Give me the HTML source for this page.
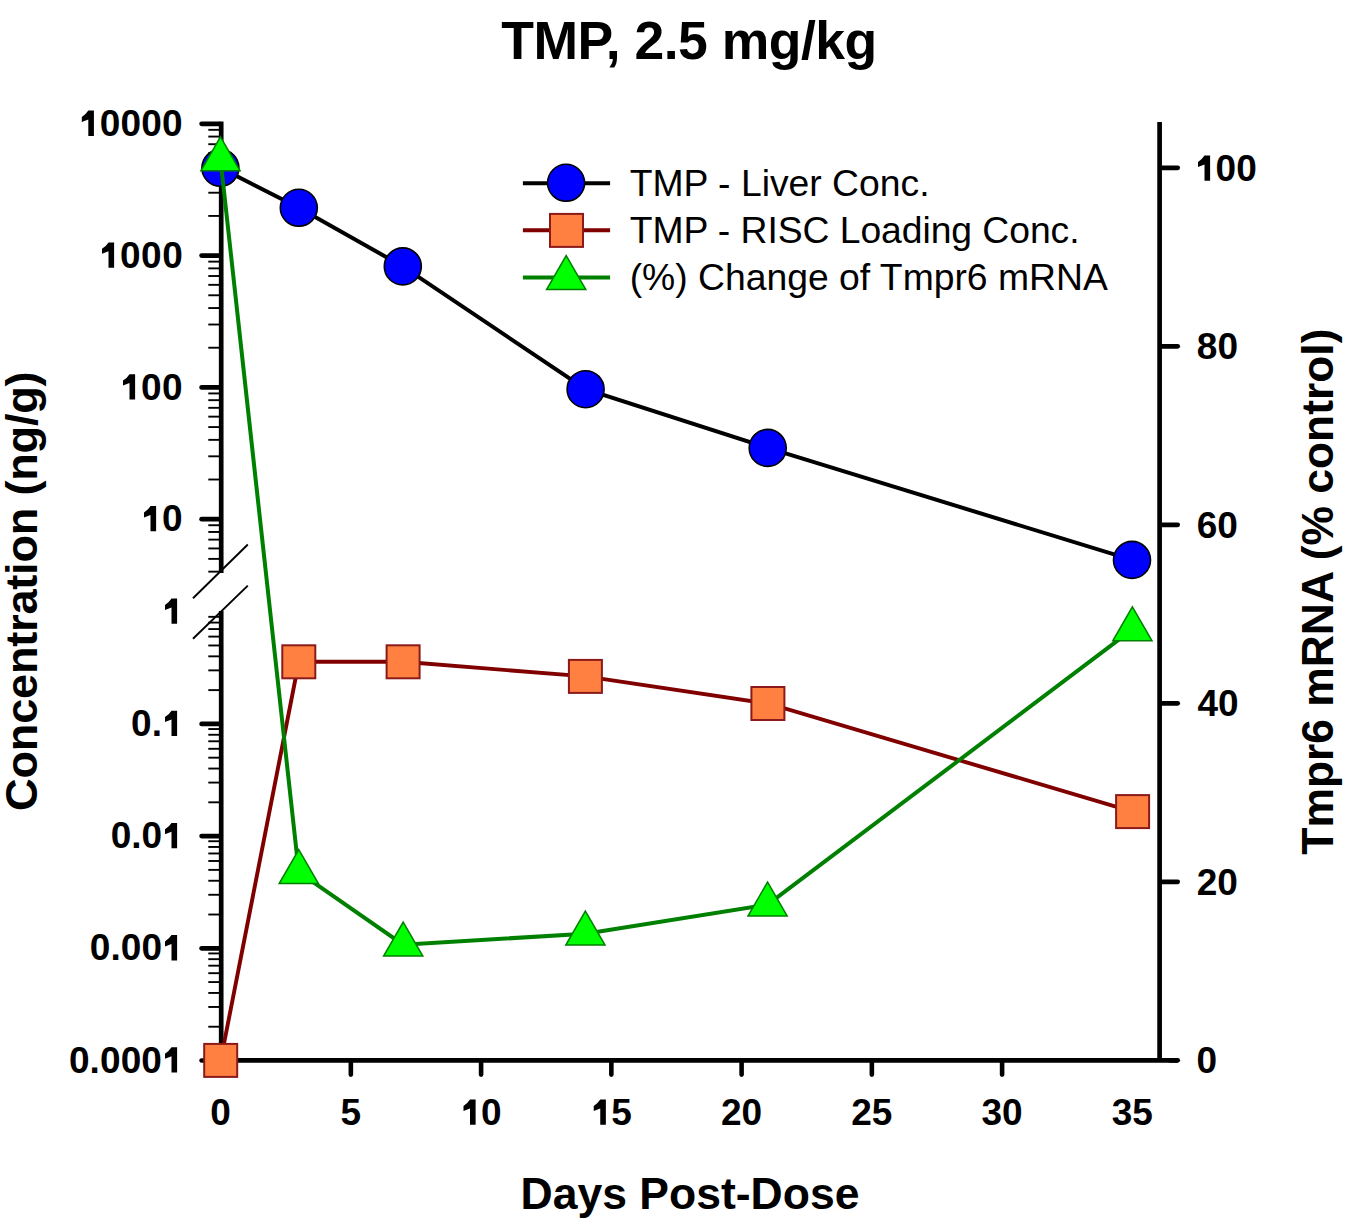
<!DOCTYPE html><html><head><meta charset="utf-8"><style>html,body{margin:0;padding:0;background:#fff;}svg{display:block}text{font-family:'Liberation Sans',sans-serif;}</style></head><body>
<svg width="1368" height="1227" viewBox="0 0 1368 1227">
<rect width="1368" height="1227" fill="#fff"/>
<text x="689" y="58.7" text-anchor="middle" font-weight="bold" font-size="53.5" style="letter-spacing:-0.5px">TMP, 2.5 mg/kg</text>
<g stroke="#000" fill="none">
<line x1="221.2" y1="121.6" x2="221.2" y2="573" stroke-width="4.7"/>
<line x1="221.2" y1="611" x2="221.2" y2="1062.6499999999999" stroke-width="4.7"/>
<line x1="218.85" y1="1060.3" x2="1177.7" y2="1060.3" stroke-width="4.7"/><line x1="1170" y1="1060.3" x2="1177.7" y2="1060.3" stroke-width="4.7" stroke-linecap="round"/>
<line x1="1159.6" y1="122" x2="1159.6" y2="1060.3" stroke-width="4.7"/>
<line x1="201.6" y1="123.80" x2="219.0" y2="123.80" stroke-width="4.7" stroke-linecap="round"/>
<line x1="201.6" y1="255.60" x2="219.0" y2="255.60" stroke-width="4.7" stroke-linecap="round"/>
<line x1="201.6" y1="387.40" x2="219.0" y2="387.40" stroke-width="4.7" stroke-linecap="round"/>
<line x1="201.6" y1="519.20" x2="219.0" y2="519.20" stroke-width="4.7" stroke-linecap="round"/>
<line x1="201.6" y1="723.90" x2="219.0" y2="723.90" stroke-width="4.7" stroke-linecap="round"/>
<line x1="201.6" y1="836.10" x2="219.0" y2="836.10" stroke-width="4.7" stroke-linecap="round"/>
<line x1="201.6" y1="948.30" x2="219.0" y2="948.30" stroke-width="4.7" stroke-linecap="round"/>
<line x1="201.6" y1="1060.50" x2="219.0" y2="1060.50" stroke-width="4.7" stroke-linecap="round"/>
<line x1="208.3" y1="215.92" x2="221.2" y2="215.92" stroke-width="1.9"/>
<line x1="208.3" y1="192.72" x2="221.2" y2="192.72" stroke-width="1.9"/>
<line x1="208.3" y1="176.25" x2="221.2" y2="176.25" stroke-width="1.9"/>
<line x1="208.3" y1="163.48" x2="221.2" y2="163.48" stroke-width="1.9"/>
<line x1="208.3" y1="153.04" x2="221.2" y2="153.04" stroke-width="1.9"/>
<line x1="208.3" y1="144.22" x2="221.2" y2="144.22" stroke-width="1.9"/>
<line x1="208.3" y1="136.57" x2="221.2" y2="136.57" stroke-width="1.9"/>
<line x1="208.3" y1="129.83" x2="221.2" y2="129.83" stroke-width="1.9"/>
<line x1="208.3" y1="347.72" x2="221.2" y2="347.72" stroke-width="1.9"/>
<line x1="208.3" y1="324.52" x2="221.2" y2="324.52" stroke-width="1.9"/>
<line x1="208.3" y1="308.05" x2="221.2" y2="308.05" stroke-width="1.9"/>
<line x1="208.3" y1="295.28" x2="221.2" y2="295.28" stroke-width="1.9"/>
<line x1="208.3" y1="284.84" x2="221.2" y2="284.84" stroke-width="1.9"/>
<line x1="208.3" y1="276.02" x2="221.2" y2="276.02" stroke-width="1.9"/>
<line x1="208.3" y1="268.37" x2="221.2" y2="268.37" stroke-width="1.9"/>
<line x1="208.3" y1="261.63" x2="221.2" y2="261.63" stroke-width="1.9"/>
<line x1="208.3" y1="479.52" x2="221.2" y2="479.52" stroke-width="1.9"/>
<line x1="208.3" y1="456.32" x2="221.2" y2="456.32" stroke-width="1.9"/>
<line x1="208.3" y1="439.85" x2="221.2" y2="439.85" stroke-width="1.9"/>
<line x1="208.3" y1="427.08" x2="221.2" y2="427.08" stroke-width="1.9"/>
<line x1="208.3" y1="416.64" x2="221.2" y2="416.64" stroke-width="1.9"/>
<line x1="208.3" y1="407.82" x2="221.2" y2="407.82" stroke-width="1.9"/>
<line x1="208.3" y1="400.17" x2="221.2" y2="400.17" stroke-width="1.9"/>
<line x1="208.3" y1="393.43" x2="221.2" y2="393.43" stroke-width="1.9"/>
<line x1="208.3" y1="571.65" x2="221.2" y2="571.65" stroke-width="1.9"/>
<line x1="208.3" y1="558.88" x2="221.2" y2="558.88" stroke-width="1.9"/>
<line x1="208.3" y1="548.44" x2="221.2" y2="548.44" stroke-width="1.9"/>
<line x1="208.3" y1="539.62" x2="221.2" y2="539.62" stroke-width="1.9"/>
<line x1="208.3" y1="531.97" x2="221.2" y2="531.97" stroke-width="1.9"/>
<line x1="208.3" y1="525.23" x2="221.2" y2="525.23" stroke-width="1.9"/>
<line x1="208.3" y1="690.12" x2="221.2" y2="690.12" stroke-width="1.9"/>
<line x1="208.3" y1="670.37" x2="221.2" y2="670.37" stroke-width="1.9"/>
<line x1="208.3" y1="656.35" x2="221.2" y2="656.35" stroke-width="1.9"/>
<line x1="208.3" y1="645.48" x2="221.2" y2="645.48" stroke-width="1.9"/>
<line x1="208.3" y1="636.59" x2="221.2" y2="636.59" stroke-width="1.9"/>
<line x1="208.3" y1="629.08" x2="221.2" y2="629.08" stroke-width="1.9"/>
<line x1="208.3" y1="622.57" x2="221.2" y2="622.57" stroke-width="1.9"/>
<line x1="208.3" y1="616.83" x2="221.2" y2="616.83" stroke-width="1.9"/>
<line x1="208.3" y1="802.32" x2="221.2" y2="802.32" stroke-width="1.9"/>
<line x1="208.3" y1="782.57" x2="221.2" y2="782.57" stroke-width="1.9"/>
<line x1="208.3" y1="768.55" x2="221.2" y2="768.55" stroke-width="1.9"/>
<line x1="208.3" y1="757.68" x2="221.2" y2="757.68" stroke-width="1.9"/>
<line x1="208.3" y1="748.79" x2="221.2" y2="748.79" stroke-width="1.9"/>
<line x1="208.3" y1="741.28" x2="221.2" y2="741.28" stroke-width="1.9"/>
<line x1="208.3" y1="734.77" x2="221.2" y2="734.77" stroke-width="1.9"/>
<line x1="208.3" y1="729.03" x2="221.2" y2="729.03" stroke-width="1.9"/>
<line x1="208.3" y1="914.52" x2="221.2" y2="914.52" stroke-width="1.9"/>
<line x1="208.3" y1="894.77" x2="221.2" y2="894.77" stroke-width="1.9"/>
<line x1="208.3" y1="880.75" x2="221.2" y2="880.75" stroke-width="1.9"/>
<line x1="208.3" y1="869.88" x2="221.2" y2="869.88" stroke-width="1.9"/>
<line x1="208.3" y1="860.99" x2="221.2" y2="860.99" stroke-width="1.9"/>
<line x1="208.3" y1="853.48" x2="221.2" y2="853.48" stroke-width="1.9"/>
<line x1="208.3" y1="846.97" x2="221.2" y2="846.97" stroke-width="1.9"/>
<line x1="208.3" y1="841.23" x2="221.2" y2="841.23" stroke-width="1.9"/>
<line x1="208.3" y1="1026.72" x2="221.2" y2="1026.72" stroke-width="1.9"/>
<line x1="208.3" y1="1006.97" x2="221.2" y2="1006.97" stroke-width="1.9"/>
<line x1="208.3" y1="992.95" x2="221.2" y2="992.95" stroke-width="1.9"/>
<line x1="208.3" y1="982.08" x2="221.2" y2="982.08" stroke-width="1.9"/>
<line x1="208.3" y1="973.19" x2="221.2" y2="973.19" stroke-width="1.9"/>
<line x1="208.3" y1="965.68" x2="221.2" y2="965.68" stroke-width="1.9"/>
<line x1="208.3" y1="959.17" x2="221.2" y2="959.17" stroke-width="1.9"/>
<line x1="208.3" y1="953.43" x2="221.2" y2="953.43" stroke-width="1.9"/>
<line x1="1161.8" y1="881.81" x2="1177.7" y2="881.81" stroke-width="4.7" stroke-linecap="round"/>
<line x1="1161.8" y1="703.32" x2="1177.7" y2="703.32" stroke-width="4.7" stroke-linecap="round"/>
<line x1="1161.8" y1="524.82" x2="1177.7" y2="524.82" stroke-width="4.7" stroke-linecap="round"/>
<line x1="1161.8" y1="346.33" x2="1177.7" y2="346.33" stroke-width="4.7" stroke-linecap="round"/>
<line x1="1161.8" y1="167.84" x2="1177.7" y2="167.84" stroke-width="4.7" stroke-linecap="round"/>
<line x1="350.85" y1="1062.6" x2="350.85" y2="1074.6" stroke-width="4.6" stroke-linecap="round"/>
<line x1="481.10" y1="1062.6" x2="481.10" y2="1074.6" stroke-width="4.6" stroke-linecap="round"/>
<line x1="611.35" y1="1062.6" x2="611.35" y2="1074.6" stroke-width="4.6" stroke-linecap="round"/>
<line x1="741.60" y1="1062.6" x2="741.60" y2="1074.6" stroke-width="4.6" stroke-linecap="round"/>
<line x1="871.85" y1="1062.6" x2="871.85" y2="1074.6" stroke-width="4.6" stroke-linecap="round"/>
<line x1="1002.10" y1="1062.6" x2="1002.10" y2="1074.6" stroke-width="4.6" stroke-linecap="round"/>
<line x1="193" y1="598.3" x2="247.8" y2="544.5" stroke-width="1.9"/>
<line x1="193" y1="638.8" x2="247.8" y2="585.6" stroke-width="1.9"/>
</g>
<g font-weight="bold" fill="#000">
<text x="78.82" y="135.90" font-size="37.0" style="letter-spacing:0.25px"> 0000</text><path d="M835,0L525,0L525,908L165,769L165,1046Q395,1190 525,1400L835,1400Z" transform="translate(78.82 135.90) scale(0.01807 -0.01807)"/>
<text x="99.02" y="267.70" font-size="37.0" style="letter-spacing:0.46px"> 000</text><path d="M835,0L525,0L525,908L165,769L165,1046Q395,1190 525,1400L835,1400Z" transform="translate(99.02 267.70) scale(0.01807 -0.01807)"/>
<text x="120.02" y="399.50" font-size="37.0" style="letter-spacing:0.43px"> 00</text><path d="M835,0L525,0L525,908L165,769L165,1046Q395,1190 525,1400L835,1400Z" transform="translate(120.02 399.50) scale(0.01807 -0.01807)"/>
<text x="141.02" y="531.30" font-size="37.0" style="letter-spacing:0.34px"> 0</text><path d="M835,0L525,0L525,908L165,769L165,1046Q395,1190 525,1400L835,1400Z" transform="translate(141.02 531.30) scale(0.01807 -0.01807)"/>
<path d="M835,0L525,0L525,908L165,769L165,1046Q395,1190 525,1400L835,1400Z" transform="translate(162.01 623.80) scale(0.01807 -0.01807)"/>
<text x="130.94" y="736.00" font-size="37.0" style="letter-spacing:0.11px">0. </text><path d="M835,0L525,0L525,908L165,769L165,1046Q395,1190 525,1400L835,1400Z" transform="translate(162.01 736.00) scale(0.01807 -0.01807)"/>
<text x="110.74" y="848.20" font-size="37.0" style="letter-spacing:-0.05px">0.0 </text><path d="M835,0L525,0L525,908L165,769L165,1046Q395,1190 525,1400L835,1400Z" transform="translate(162.01 848.20) scale(0.01807 -0.01807)"/>
<text x="89.84" y="960.40" font-size="37.0" style="letter-spacing:0.04px">0.00 </text><path d="M835,0L525,0L525,908L165,769L165,1046Q395,1190 525,1400L835,1400Z" transform="translate(162.01 960.40) scale(0.01807 -0.01807)"/>
<text x="68.94" y="1072.60" font-size="37.0" style="letter-spacing:0.10px">0.000 </text><path d="M835,0L525,0L525,908L165,769L165,1046Q395,1190 525,1400L835,1400Z" transform="translate(162.01 1072.60) scale(0.01807 -0.01807)"/>
<text x="210.31" y="1124.80" font-size="37.0">0</text>
<text x="340.56" y="1124.80" font-size="37.0">5</text>
<text x="460.52" y="1124.80" font-size="37.0"> 0</text><path d="M835,0L525,0L525,908L165,769L165,1046Q395,1190 525,1400L835,1400Z" transform="translate(460.52 1124.80) scale(0.01807 -0.01807)"/>
<text x="590.77" y="1124.80" font-size="37.0"> 5</text><path d="M835,0L525,0L525,908L165,769L165,1046Q395,1190 525,1400L835,1400Z" transform="translate(590.77 1124.80) scale(0.01807 -0.01807)"/>
<text x="721.02" y="1124.80" font-size="37.0">20</text>
<text x="851.27" y="1124.80" font-size="37.0">25</text>
<text x="981.52" y="1124.80" font-size="37.0">30</text>
<text x="1111.77" y="1124.80" font-size="37.0">35</text>
<text x="1196.54" y="1073.30" font-size="37.0">0</text>
<text x="1196.72" y="894.81" font-size="37.0">20</text>
<text x="1197.44" y="716.32" font-size="37.0">40</text>
<text x="1196.65" y="537.82" font-size="37.0">60</text>
<text x="1196.83" y="359.33" font-size="37.0">80</text>
<text x="1195.02" y="180.84" font-size="37.0"> 00</text><path d="M835,0L525,0L525,908L165,769L165,1046Q395,1190 525,1400L835,1400Z" transform="translate(1195.02 180.84) scale(0.01807 -0.01807)"/>
</g>
<text x="690" y="1209.3" text-anchor="middle" font-weight="bold" font-size="44.5">Days Post-Dose</text>
<text transform="translate(37.1 591.3) rotate(-90)" text-anchor="middle" font-weight="bold" font-size="45.2" style="letter-spacing:-0.25px">Concentration (ng/g)</text>
<text transform="translate(1332.6 591.6) rotate(-90)" text-anchor="middle" font-weight="bold" font-size="44.4">Tmpr6 mRNA (% control)</text>
<polyline points="220.4,167.8 298.8,207.8 402.8,266.4 585.6,389.2 767.7,447.9 1132,559.9" fill="none" stroke="#000" stroke-width="4"/>
<circle cx="220.4" cy="167.8" r="18.5" fill="#0000FF" stroke="#000" stroke-width="1.6"/>
<circle cx="298.8" cy="207.8" r="18.5" fill="#0000FF" stroke="#000" stroke-width="1.6"/>
<circle cx="402.8" cy="266.4" r="18.5" fill="#0000FF" stroke="#000" stroke-width="1.6"/>
<circle cx="585.6" cy="389.2" r="18.5" fill="#0000FF" stroke="#000" stroke-width="1.6"/>
<circle cx="767.7" cy="447.9" r="18.5" fill="#0000FF" stroke="#000" stroke-width="1.6"/>
<circle cx="1132" cy="559.9" r="18.5" fill="#0000FF" stroke="#000" stroke-width="1.6"/>
<polyline points="220.7,1060.4 298.8,661.8 403.1,661.8 585.4,676.4 767.9,703.5 1132.6,811.6" fill="none" stroke="#800000" stroke-width="3.9"/>
<rect x="204.20" y="1043.90" width="33" height="33" fill="#FF8040" stroke="#8B1A1A" stroke-width="2"/>
<rect x="282.30" y="645.30" width="33" height="33" fill="#FF8040" stroke="#8B1A1A" stroke-width="2"/>
<rect x="386.60" y="645.30" width="33" height="33" fill="#FF8040" stroke="#8B1A1A" stroke-width="2"/>
<rect x="568.90" y="659.90" width="33" height="33" fill="#FF8040" stroke="#8B1A1A" stroke-width="2"/>
<rect x="751.40" y="687.00" width="33" height="33" fill="#FF8040" stroke="#8B1A1A" stroke-width="2"/>
<rect x="1116.10" y="795.10" width="33" height="33" fill="#FF8040" stroke="#8B1A1A" stroke-width="2"/>
<polyline points="220.5,159.4 298.8,872.2 403.2,944.7 585.4,933.7 767.6,904.7 1132.4,629.4" fill="none" stroke="#008000" stroke-width="4.0"/>
<polygon points="220.50,136.80 240.10,170.80 200.90,170.80" fill="#00FF00" stroke="#008000" stroke-width="1.5" stroke-linejoin="miter"/>
<polygon points="298.80,849.60 318.40,883.60 279.20,883.60" fill="#00FF00" stroke="#008000" stroke-width="1.5" stroke-linejoin="miter"/>
<polygon points="403.20,922.10 422.80,956.10 383.60,956.10" fill="#00FF00" stroke="#008000" stroke-width="1.5" stroke-linejoin="miter"/>
<polygon points="585.40,911.10 605.00,945.10 565.80,945.10" fill="#00FF00" stroke="#008000" stroke-width="1.5" stroke-linejoin="miter"/>
<polygon points="767.60,882.10 787.20,916.10 748.00,916.10" fill="#00FF00" stroke="#008000" stroke-width="1.5" stroke-linejoin="miter"/>
<polygon points="1132.40,606.80 1152.00,640.80 1112.80,640.80" fill="#00FF00" stroke="#008000" stroke-width="1.5" stroke-linejoin="miter"/>
<line x1="522.9" y1="183.2" x2="610.1" y2="183.2" stroke="#000" stroke-width="4"/>
<circle cx="566.1" cy="182.8" r="18.5" fill="#0000FF" stroke="#000" stroke-width="1.6"/>
<line x1="522.9" y1="230.2" x2="610.1" y2="230.2" stroke="#800000" stroke-width="3.9"/>
<rect x="550.00" y="213.90" width="33" height="33" fill="#FF8040" stroke="#8B1A1A" stroke-width="2"/>
<line x1="522.9" y1="277.5" x2="610.1" y2="277.5" stroke="#008000" stroke-width="4.0"/>
<polygon points="566.20,255.60 585.80,289.60 546.60,289.60" fill="#00FF00" stroke="#008000" stroke-width="1.5" stroke-linejoin="miter"/>
<g font-size="37.3">
<text x="629.7" y="195.6">TMP - Liver Conc.</text>
<text x="629.7" y="242.8" style="letter-spacing:-0.06px">TMP - RISC Loading Conc.</text>
<text x="629.7" y="289.8">(%) Change of Tmpr6 mRNA</text>
</g>
</svg></body></html>
